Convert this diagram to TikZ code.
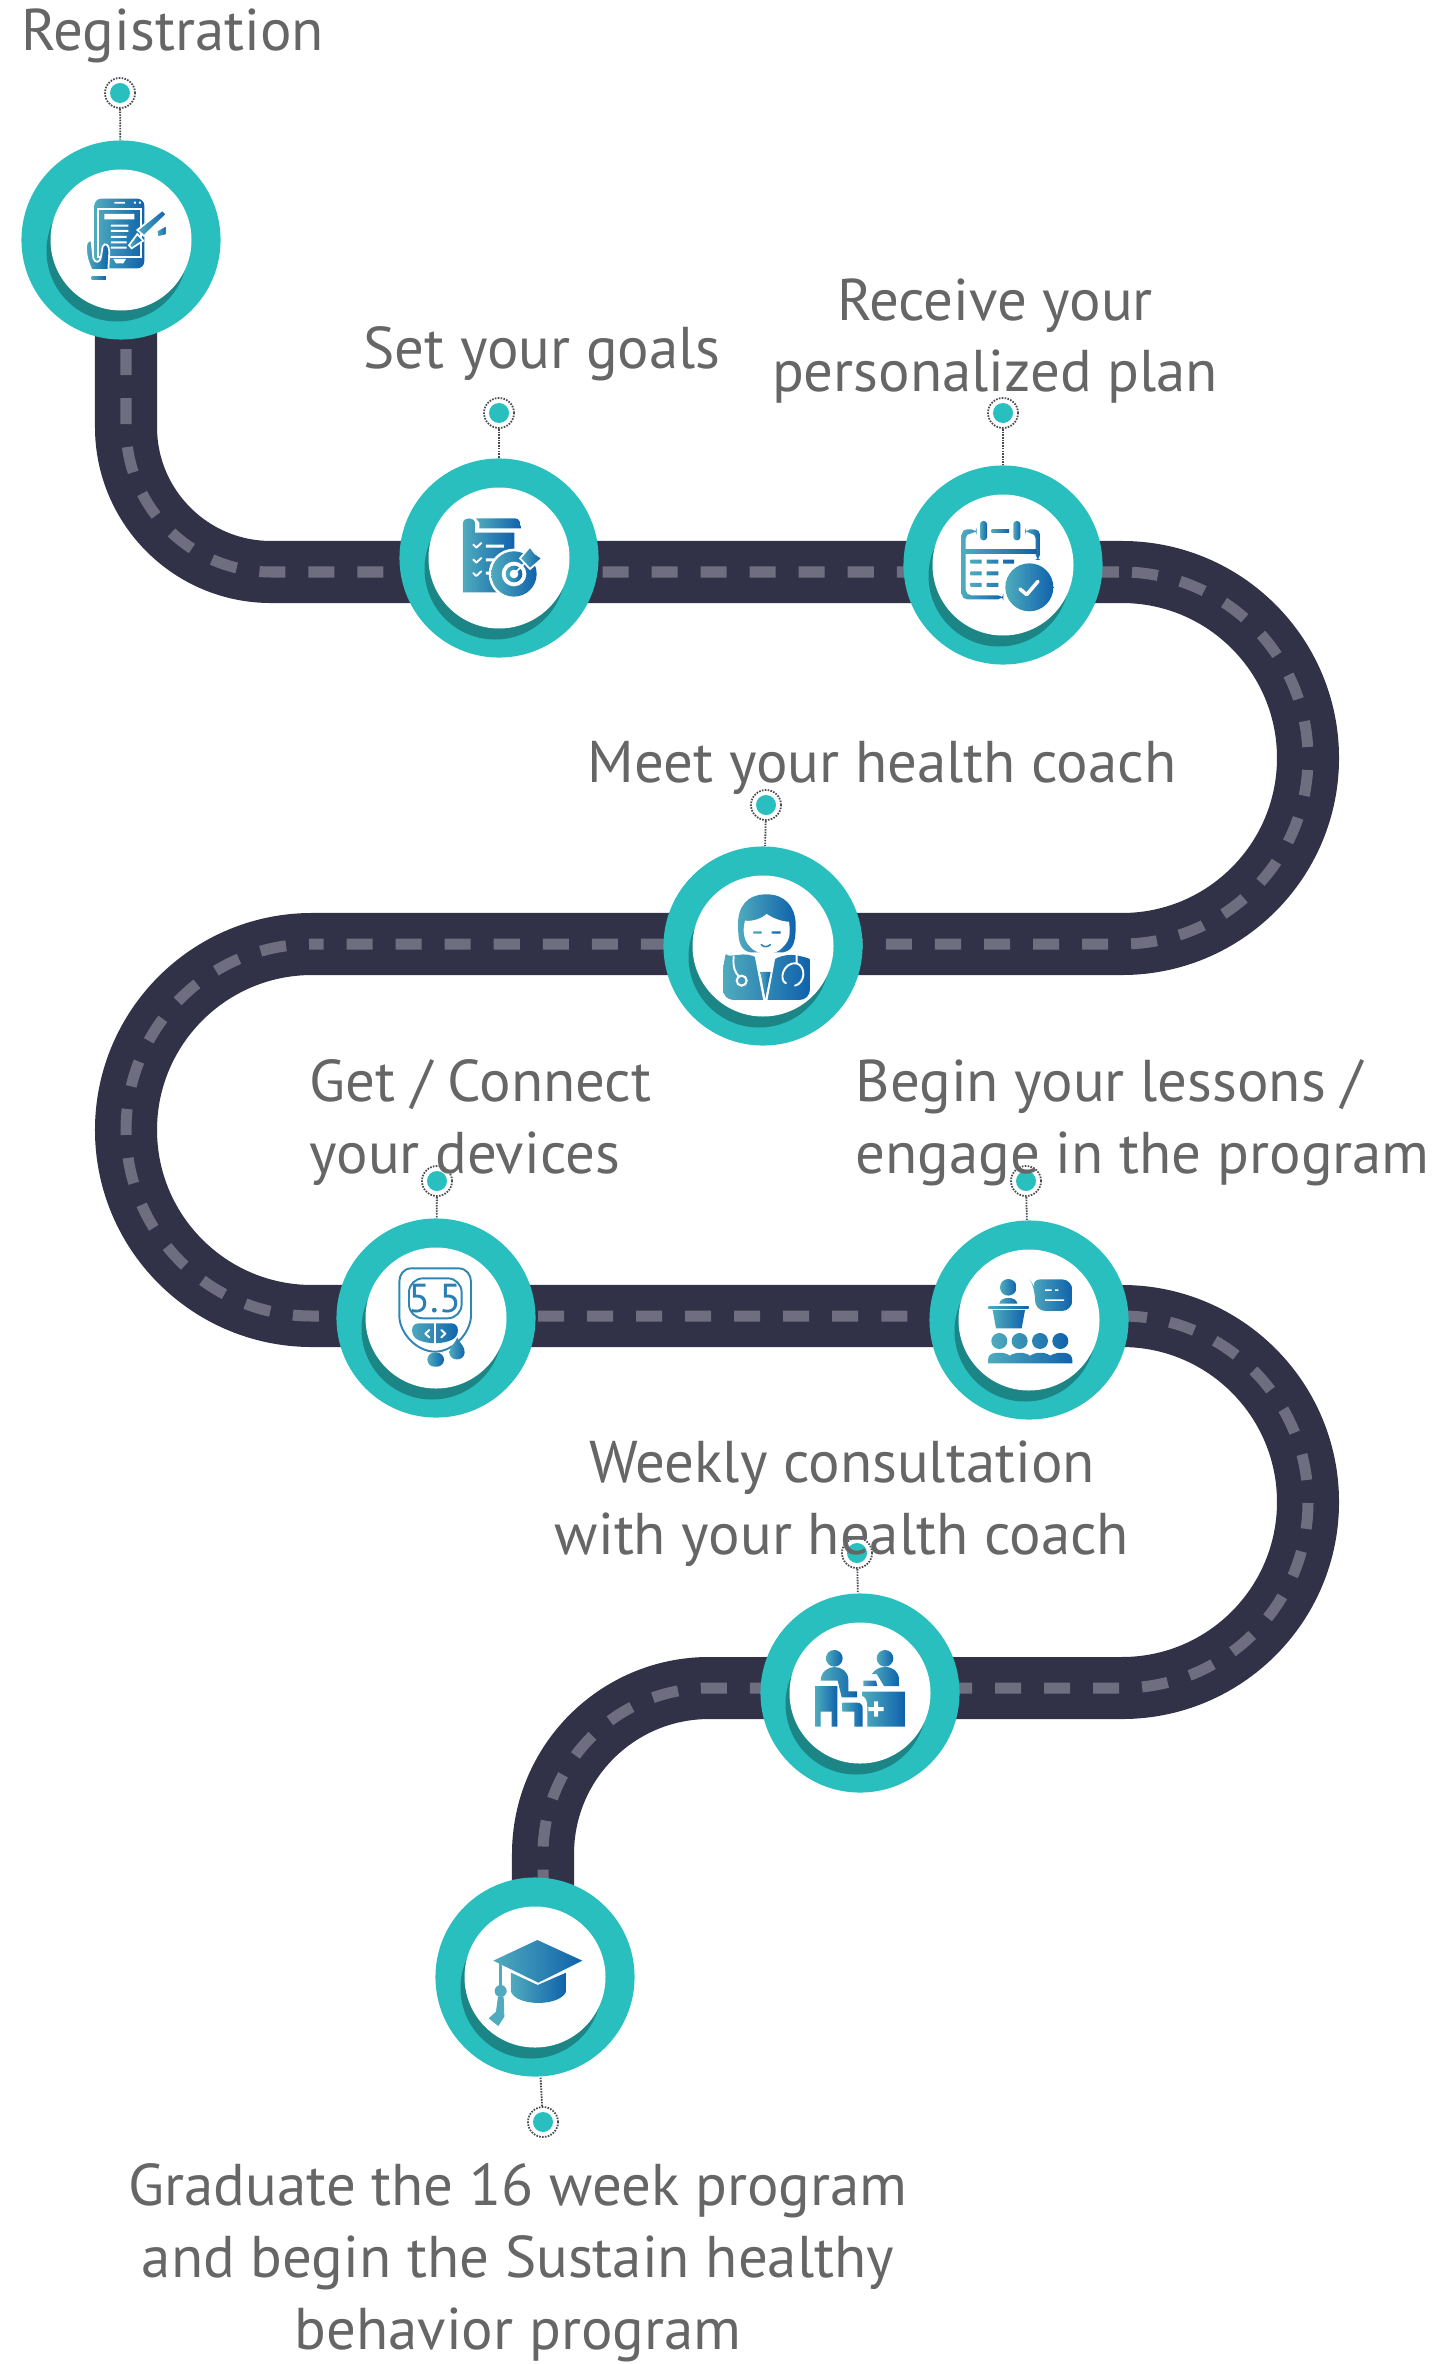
\documentclass[tikz,border=0pt]{standalone}
\usepackage{fontspec}
\setmainfont{PT Sans}
\usepackage{xcolor}
\usetikzlibrary{positioning}
\definecolor{roaddark}{HTML}{313247}
\definecolor{roaddash}{HTML}{6E6E80}
\definecolor{tealmain}{HTML}{29BFBF}
\definecolor{tealdeep}{HTML}{1C8585}
\definecolor{labelgray}{HTML}{666666}
\definecolor{dotgray}{HTML}{4A4A55}
\definecolor{iconlight}{HTML}{4FABBD}
\definecolor{icondark}{HTML}{0F62AC}
\tikzset{
  road/.style={draw=roaddark, line width=0.62cm},
  roadmark/.style={draw=roaddash, line width=0.11cm, dash pattern=on 0.26cm off 0.23cm},
  stepring/.style={circle, fill=tealmain, minimum size=1.99cm, inner sep=0pt,
    path picture={
      \fill[tealdeep] ([shift={(-4,11)}]path picture bounding box.center) circle (70.5);
      \fill[white] (path picture bounding box.center) circle (70.5);
    }},
  dotring/.style={circle, draw=dotgray, line width=0.018cm,
    dash pattern=on 0.016cm off 0.013cm, minimum size=0.30cm, inner sep=0pt,
    path picture={\fill[tealmain] (path picture bounding box.center) circle (10);}},
  leader/.style={draw=dotgray, line width=0.018cm, dash pattern=on 0.016cm off 0.011cm},
  steptext/.style={text=labelgray, font=\fontsize{16.75}{20.47}\selectfont, align=center, inner sep=0pt, anchor=base},
  iconfill/.style={left color=iconlight, right color=icondark, draw=none},
  iconedge/.style={left color=iconlight, right color=icondark, draw=white, line width=0.5pt},
  iconcut/.style={fill=white, draw=none},
  iconwhite/.style={draw=white, line width=0.55pt, line cap=round, line join=round},
}
\begin{document}
\begin{tikzpicture}[x=0.01cm, y=-0.01cm]
  \useasboundingbox (0,0) rectangle (1451,2364);

  % Stations along the road
  \coordinate (roadStart) at (126,300);
  \coordinate (roadEnd) at (543,1950);
  \draw[road] (roadStart) -- (126,427) arc[start angle=180, end angle=90, radius=145]
    -- (1122,572) arc[start angle=-90, end angle=90, radius=186]
    -- (312,944) arc[start angle=270, end angle=90, radius=186]
    -- (1122,1316) arc[start angle=-90, end angle=90, radius=186]
    -- (709,1688) arc[start angle=270, end angle=180, radius=166]
    -- (roadEnd);
  % Centre marks, one piece per bend
  \draw[roadmark] (roadStart) -- (126,427) arc[start angle=180, end angle=90, radius=145] -- (1122,572);
  \draw[roadmark, dash phase=0.39cm] (1122,572) arc[start angle=-90, end angle=90, radius=186] -- (312,944);
  \draw[roadmark, dash phase=0.23cm] (312,944) arc[start angle=270, end angle=90, radius=186] -- (1122,1316);
  \draw[roadmark, dash phase=0.01cm] (1122,1316) arc[start angle=-90, end angle=90, radius=186]
    -- (709,1688) arc[start angle=270, end angle=180, radius=166] -- (roadEnd);

  \node[stepring] (stepA) at (121,240) {};
  \node[stepring] (stepB) at (499,558) {};
  \node[stepring] (stepC) at (1003,565) {};
  \node[stepring] (stepD) at (763,946) {};
  \node[stepring] (stepE) at (436,1318) {};
  \node[stepring] (stepF) at (1029,1320) {};
  \node[stepring] (stepG) at (860,1693) {};
  \node[stepring] (stepH) at (535,1977) {};

  % Leaders
  \node[dotring] (dotA) at (120,93) {};
  \node[dotring] (dotB) at (499,413) {};
  \node[dotring] (dotC) at (1003,413) {};
  \node[dotring] (dotD) at (766,805) {};
  \node[dotring] (dotE) at (437,1181) {};
  \node[dotring] (dotF) at (1026,1181) {};
  \node[dotring] (dotG) at (857,1553) {};
  \node[dotring] (dotH) at (543,2122) {};
  \draw[leader] (dotA) -- (stepA);
  \draw[leader] (dotB) -- (stepB);
  \draw[leader] (dotC) -- (stepC);
  \draw[leader] (dotD) -- (stepD);
  \draw[leader] (dotE) -- (stepE);
  \draw[leader] (dotF) -- (stepF);
  \draw[leader] (dotG) -- (stepG);
  \draw[leader] (dotH) -- (stepH);

  % Labels
  \node[steptext] (textA) at (172.5,51) {Registration};
  \node[steptext] (textB) at (542,369) {Set your goals};
  \node[steptext] (textC) at (995,392) {Receive your\\personalized plan};
  \node[steptext] (textD) at (882,782) {Meet your health coach};
  \node[steptext, anchor=base west, align=left] (textE) at (309,1173) {Get / Connect\\your devices};
  \node[steptext, anchor=base west, align=left] (textF) at (855,1173) {Begin your lessons /\\engage in the program};
  \node[steptext] (textG) at (842,1554) {Weekly consultation\\with your health coach};
  \node[steptext] (textH) at (518,2349) {Graduate the 16 week program\\and begin the Sustain healthy\\behavior program};

  % Icon: tablet and pen
  \begin{scope}[shift={(0,60)}, scale=0.3333]
    \path[iconfill, rounded corners=2pt] (283,416) rectangle (433,625);
    \path[iconcut] (343,426) rectangle (375,431) (402,425) rectangle (408,431) (417,425) rectangle (423,431);
    \draw[white, line width=0.5pt] (293,447) rectangle (424,590);
    \path[iconcut] (313,462) rectangle (403,478) (333,494) rectangle (385,500) (333,510) rectangle (385,516)
      (333,528) rectangle (380,534) (333,544) rectangle (380,550) (333,560) rectangle (380,566);
    \path[iconcut] (340,597) -- (378,597) -- (370,610) -- (348,610) -- cycle;
    \path[iconedge] (470,512) -- (500,495) -- (500,525) -- (472,532) -- cycle;
    \path[iconedge] (487,450) -- (500,463) -- (432,528) -- (412,510) -- cycle;
    \path[iconedge] (412,522) -- (430,542) -- (395,565) -- (387,556) -- cycle;
    \path[iconedge] (258,560) .. controls (258,545) and (272,535) .. (275,545) -- (280,595)
      .. controls (285,610) and (300,610) .. (303,590) -- (308,560)
      .. controls (315,545) and (328,555) .. (328,575) -- (325,630) -- (275,630)
      .. controls (265,610) and (258,590) .. (258,560) -- cycle;
    \path[iconfill] (275,650) rectangle (318,658);
  \end{scope}

  % Icon: checklist and target
  \begin{scope}[shift={(380,390)}, scale=0.3333]
    \path[iconfill] (249,607) -- (249,400) .. controls (249,380) and (285,380) .. (285,400)
      -- (285,428) -- (403,428) -- (403,607) -- cycle;
    \path[iconfill] (288,385) -- (405,385) .. controls (418,385) and (423,400) .. (423,415)
      -- (298,415) -- (298,398) -- cycle;
    \draw[iconwhite] (280,464) -- (289,473) -- (304,459);
    \draw[iconwhite] (280,509) -- (289,518) -- (304,504);
    \draw[iconwhite] (280,549) -- (289,558) -- (304,544);
    \path[iconcut] (318,464) rectangle (372,473) (318,505) rectangle (350,514) (318,545) rectangle (340,554);
    \path[iconcut] (402,552) circle (76);
    \path[iconfill] (402,552) circle (68);
    \path[iconcut] (402,552) circle (37);
    \path[iconfill] (402,552) circle (25);
    \path[iconcut] (402,552) circle (13);
    \draw[white, line width=0.5pt] (402,552) -- (432,522);
    \path[iconedge] (420,505) -- (450,470) -- (465,490) -- (487,505) -- (450,537) -- cycle;
  \end{scope}

  % Icon: calendar
  \begin{scope}[shift={(880,390)}, scale=0.3333]
    \path[iconfill, rounded corners=1.5pt] (245,628) -- (245,418) -- (290,418) -- (290,430) -- (257,430) -- (257,616) -- (370,616) -- (370,628) -- cycle;
    \path[iconfill, rounded corners=1.5pt] (435,418) -- (480,418) -- (480,510) -- (467,510) -- (467,430) -- (435,430) -- cycle;
    \path[iconfill] (250,480) rectangle (470,491);
    \path[iconfill] (335,418) rectangle (387,429);
    \path[iconfill, rounded corners=0.9pt] (300,393) rectangle (321,451);
    \path[iconfill, rounded corners=0.9pt] (400,393) rectangle (421,451);
    \path[iconfill] (272,509) rectangle (305,521) (320,509) rectangle (355,521) (369,509) rectangle (402,521)
      (272,544) rectangle (305,556) (320,544) rectangle (355,556) (272,579) rectangle (305,591) (320,579) rectangle (355,591);
    \path[iconcut] (448,592) circle (80);
    \path[iconfill] (448,592) circle (72);
    \draw[white, line width=1pt, line cap=round, line join=round] (420,597) -- (440,614) -- (474,574);
  \end{scope}

  % Icon: health coach
  \begin{scope}[shift={(650,790)}, scale=0.3333]
    \path[iconfill] (350,313) .. controls (290,313) and (262,350) .. (264,410)
      .. controls (265,440) and (265,480) .. (300,487) -- (400,487)
      .. controls (437,480) and (437,440) .. (437,400) .. controls (435,350) and (405,313) .. (350,313) -- cycle;
    \path[iconcut] (285,392) .. controls (310,395) and (335,385) .. (350,372)
      .. controls (370,385) and (395,395) .. (417,395) .. controls (422,430) and (420,450) .. (400,470)
      .. controls (380,498) and (320,498) .. (300,470) .. controls (285,455) and (275,430) .. (285,392) -- cycle;
    \path[iconfill] (310,424) rectangle (335,431) (365,424) rectangle (392,431);
    \draw[icondark!50!iconlight, line width=0.45pt, line cap=round] (334,464) .. controls (342,472) and (352,472) .. (361,464);
    \path[iconfill, rounded corners=3pt] (219,630) -- (219,520) .. controls (225,500) and (245,497) .. (310,490)
      .. controls (330,510) and (370,510) .. (395,492) .. controls (450,497) and (480,505) .. (480,540) -- (480,630) -- cycle;
    \path[iconcut] (313,492) .. controls (330,505) and (365,505) .. (378,492) -- (352,632) -- (340,632) -- cycle;
    \path[iconfill] (331,546) -- (362,546) -- (346,625) -- cycle;
    \draw[iconwhite] (251,500) .. controls (248,530) and (255,550) .. (268,560);
    \draw[white, line width=0.6pt] (275,572) circle (15);
    \draw[iconwhite] (440,497) -- (440,520) .. controls (400,515) and (385,570) .. (408,580);
    \draw[iconwhite] (440,520) .. controls (470,530) and (465,580) .. (435,587);
  \end{scope}

  % Icon: glucose meter
  \begin{scope}[shift={(320,1160)}, scale=0.3333]
    \draw[icondark!50!iconlight, line width=0.55pt] (275,325) -- (415,325) .. controls (440,325) and (453,345) .. (453,365)
      -- (453,470) .. controls (450,520) and (400,575) .. (345,575) .. controls (290,575) and (240,520) .. (238,470)
      -- (238,365) .. controls (238,345) and (250,325) .. (275,325) -- cycle;
    \draw[icondark!50!iconlight, line width=0.55pt, rounded corners=4pt] (267,355) rectangle (425,475);
    \node[text=icondark!60!iconlight, font=\fontsize{11.5}{11.5}\selectfont, inner sep=0pt] (meterValue) at (345,417) {5.5};
    \path[iconfill] (295,490) -- (395,490) .. controls (420,490) and (420,530) .. (395,540)
      .. controls (365,553) and (325,553) .. (295,540) .. controls (270,530) and (270,490) .. (295,490) -- cycle;
    \draw[white, line width=0.4pt] (345,490) -- (345,550);
    \draw[iconwhite] (328,510) -- (316,521) -- (328,532);
    \draw[iconwhite] (364,510) -- (376,521) -- (364,532);
    \path[iconfill, rounded corners=2pt] (322,578) rectangle (372,620);
    \path[iconfill] (412,533) .. controls (420,550) and (435,560) .. (434,578)
      .. controls (432,605) and (390,605) .. (388,578) .. controls (390,560) and (405,550) .. (412,533) -- cycle;
  \end{scope}

  % Icon: lessons
  \begin{scope}[shift={(920,1160)}, scale=0.3333]
    \path[iconfill] (265,382) circle (25);
    \path[iconfill] (238,431) .. controls (240,408) and (290,408) .. (292,431) -- cycle;
    \path[iconfill] (205,439) rectangle (326,447);
    \path[iconfill] (218,450) -- (315,450) -- (305,505) -- (228,505) -- cycle;
    \path[iconfill, rounded corners=3pt] (330,358) -- (457,358) -- (457,453) -- (345,453) -- (345,385) -- cycle;
    \path[iconcut] (375,388) rectangle (395,393) (405,388) rectangle (415,393) (375,418) rectangle (432,423);
    \path[iconfill] (238,543) circle (24) (299,543) circle (24) (360,543) circle (24) (421,543) circle (24);
    \path[iconfill] (204,610) -- (204,600) .. controls (204,585) and (215,579) .. (228,579)
      -- (250,579) .. controls (258,579) and (265,585) .. (269,587) .. controls (275,585) and (280,579) .. (290,579)
      -- (310,579) .. controls (318,579) and (325,585) .. (330,587) .. controls (336,585) and (342,579) .. (350,579)
      -- (372,579) .. controls (380,579) and (386,585) .. (391,587) .. controls (397,585) and (403,579) .. (412,579)
      -- (435,579) .. controls (450,579) and (457,590) .. (457,600) -- (457,610) -- cycle;
  \end{scope}

  % Icon: consultation
  \begin{scope}[shift={(750,1540)}, scale=0.3333]
    \path[iconfill] (253,355) circle (25);
    \path[iconfill] (212,422) .. controls (212,395) and (235,381) .. (253,381) .. controls (275,381) and (295,395) .. (295,420)
      -- (295,454) -- (321,454) -- (321,472) -- (275,472) -- (263,422) -- cycle;
    \path[iconfill] (195,438) -- (262,438) -- (262,560) -- (245,560) -- (245,515) -- (212,515) -- (212,560) -- (195,560) -- cycle;
    \path[iconfill] (278,488) -- (322,488) .. controls (332,488) and (338,495) .. (338,505) -- (338,560) -- (313,560) -- (313,515) -- (278,515) -- cycle;
    \path[iconfill] (405,355) circle (25);
    \path[iconfill] (365,402) .. controls (375,390) and (385,381) .. (405,381) .. controls (430,381) and (447,395) .. (447,420)
      -- (447,438) -- (402,438) -- (380,402) -- cycle;
    \path[iconfill] (340,422) -- (378,422) -- (382,438) -- (340,438) -- cycle;
    \path[iconfill] (337,455) -- (465,455) -- (465,560) -- (352,560) -- (352,500) .. controls (352,480) and (345,470) .. (337,468) -- cycle;
    \path[iconcut] (372,484) rectangle (384,530) (355,501) rectangle (401,513);
  \end{scope}

  % Icon: graduation cap
  \begin{scope}[shift={(430,1870)}, scale=0.3333]
    \path[iconfill] (190,272) -- (322,210) -- (457,272) -- (325,338) -- cycle;
    \path[iconfill] (243,308) -- (323,345) -- (408,308) -- (408,365) .. controls (390,410) and (260,410) .. (243,365) -- cycle;
    \path[fill=iconlight] (207,280) rectangle (217,350);
    \path[fill=iconlight] (212,363) circle (18);
    \path[fill=iconlight] (204,380) -- (221,380) -- (223,440) -- (205,468) -- (176,445) -- (198,425) -- cycle;
  \end{scope}
\end{tikzpicture}
\end{document}
